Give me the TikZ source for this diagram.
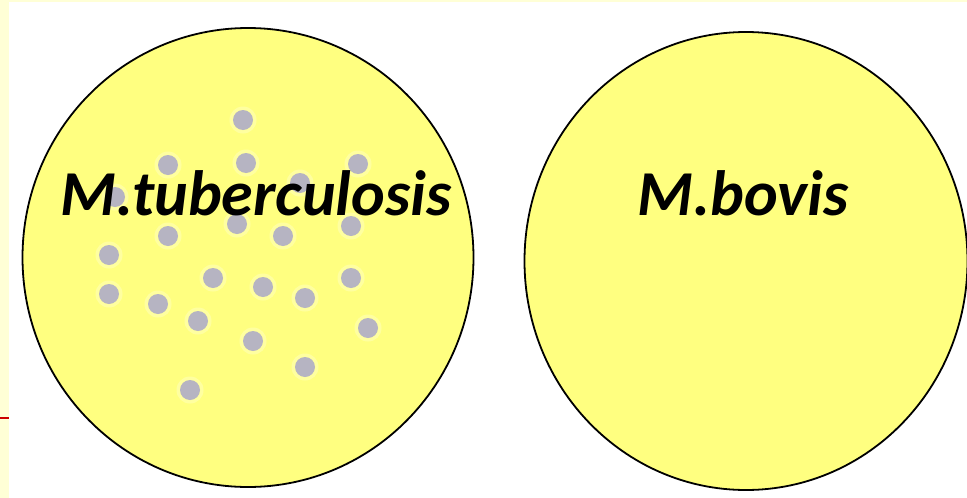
\documentclass[tikz,border=0pt]{standalone}
\usepackage{fontspec}
\setmainfont{Carlito}
\definecolor{cream}{RGB}{255,255,214}
\definecolor{plate}{RGB}{255,255,128}
\definecolor{halo}{RGB}{255,255,175}
\definecolor{dotgrey}{RGB}{182,180,194}
\definecolor{redmark}{RGB}{204,0,0}
\begin{document}
\begin{tikzpicture}[x=1pt,y=-1pt,
  platestyle/.style={draw=black,line width=1.8pt,fill=plate},
  colony/.style={fill=dotgrey},
  colonyhalo/.style={fill=halo,opacity=0.7},
  label/.style={font=\fontsize{64}{64}\selectfont\bfseries\itshape,anchor=base,inner sep=0pt}]
\useasboundingbox (0,0) rectangle (967,498);
\fill[white] (0,0) rectangle (967,498);
\fill[cream] (0,0) rectangle (9,498);
\fill[cream] (0,0) rectangle (967,2);
\draw[redmark,line width=2pt] (0,418) -- (9,418);
% plates
\path[platestyle] (248,257.5) ellipse [x radius=225.5,y radius=229.5];
\path[platestyle] (746,261) ellipse [x radius=221.5,y radius=229];
% colonies
\foreach \p in {(243,120),(168,165),(246,163),(358,164),(300,183),(115,197),
  (237,224),(351,226),(168,236),(283,236),(109,255),(213,278),(351,278),
  (109,294),(263,287),(305,298),(158,304),(198,321),(368,328),(253,341),
  (305,367),(190,390)}{
  \fill[colonyhalo] \p circle (13.5);
  \fill[colony] \p circle (10);
}
\node[label] (mtb) at (256,215) {M.tuberculosis};
\node[label] (mbov) at (743,215) {M.bovis};
\end{tikzpicture}
\end{document}
